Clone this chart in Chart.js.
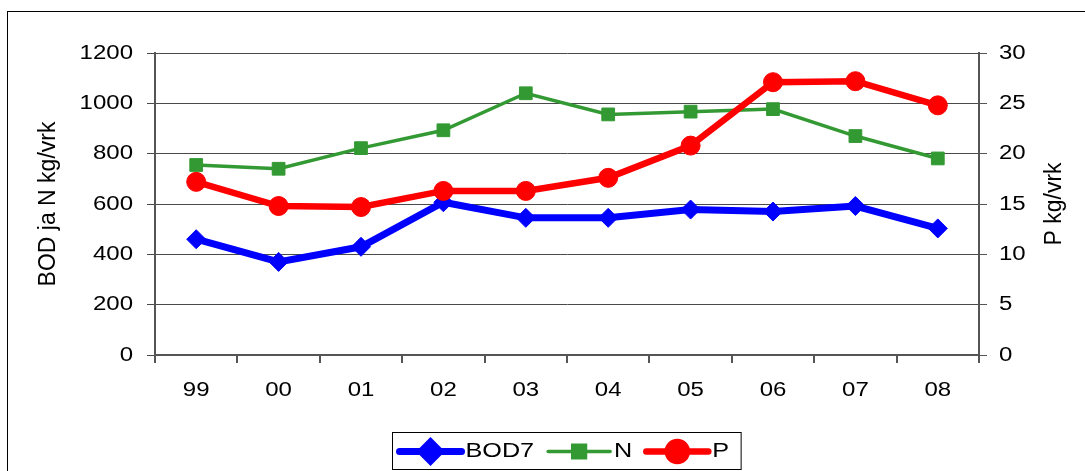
<!DOCTYPE html>
<html>
<head>
<meta charset="utf-8">
<script src="https://cdn.jsdelivr.net/npm/chart.js@4/dist/chart.umd.min.js"></script>
<style>
  html, body { margin: 0; padding: 0; background: #fff; }
  #wrap { position: relative; width: 1085px; height: 471px; }
</style>
</head>
<body>
<div id="wrap"><canvas id="c" width="1085" height="471"></canvas></div>
<script>
// Yearly loads
const years = ['99', '00', '01', '02', '03', '04', '05', '06', '07', '08'];
const bod7 = [460, 370, 430, 607, 545, 545, 578, 570, 592, 503];
const nitrogen = [755, 740, 822, 893, 1040, 956, 967, 977, 870, 781];
const phosphorus = [17.2, 14.8, 14.7, 16.3, 16.3, 17.6, 20.8, 27.1, 27.2, 24.8];

const leftTicks = [0, 200, 400, 600, 800, 1000, 1200];
const rightTicks = [0, 5, 10, 15, 20, 25, 30];

const leftTitle = 'BOD ja N kg/vrk';
const rightTitle = 'P kg/vrk';

const FONT = '"Liberation Sans", Arial, sans-serif';
const TEXT_STRETCH = 1.2;   // horizontal labels are drawn wide

// Widen horizontal text around its anchor point; rotated titles stay as they are.
function widenText(ctx) {
  const fill = ctx.fillText;
  ctx.fillText = function (text, x, y, maxWidth) {
    const m = this.getTransform();
    if (Math.abs(m.b) > 1e-6 || Math.abs(m.c) > 1e-6) {
      return maxWidth === undefined ? fill.call(this, text, x, y) : fill.call(this, text, x, y, maxWidth);
    }
    this.save();
    this.translate(x, y);
    this.scale(TEXT_STRETCH, 1);
    if (maxWidth === undefined) fill.call(this, text, 0, 0);
    else fill.call(this, text, 0, 0, maxWidth / TEXT_STRETCH);
    this.restore();
  };
}

const framePlugin = {
  id: 'frame',
  beforeInit(chart) { widenText(chart.ctx); },
  beforeDraw(chart) {
    const ctx = chart.ctx;
    ctx.save();
    ctx.fillStyle = '#fff';
    ctx.fillRect(0, 0, chart.width, chart.height);
    ctx.strokeStyle = '#000';
    ctx.lineWidth = 1;
    ctx.strokeRect(7.5, 11.5, 1300, 700);
    ctx.restore();
  },
  // right-hand axis title, reading bottom to top like the left one
  afterDraw(chart) {
    const s = chart.scales.y1;
    const ctx = chart.ctx;
    ctx.save();
    ctx.translate(1055, (s.top + s.bottom) / 2);
    ctx.rotate(-Math.PI / 2);
    ctx.font = '23px ' + FONT;
    ctx.fillStyle = '#000';
    ctx.textAlign = 'center';
    ctx.textBaseline = 'middle';
    ctx.fillText(rightTitle, 0, 0);
    ctx.restore();
  }
};

// Boxed legend: line sample with marker, then the label
const legendPlugin = {
  id: 'boxLegend',
  afterDraw(chart) {
    const ctx = chart.ctx;
    const sets = chart.data.datasets;
    const lineLen = 62, textGap = 4, itemGap = 14, padL = 7, padR = 12;
    const boxTop = 432, boxH = 37, cx = 566.5;
    ctx.save();
    ctx.font = '21px ' + FONT;
    const widths = sets.map(d => ctx.measureText(d.label).width * TEXT_STRETCH);
    let total = padL + padR + itemGap * (sets.length - 1);
    widths.forEach(w => { total += lineLen + textGap + w; });
    const left = Math.round(cx - total / 2) + 0.5;
    ctx.fillStyle = '#fff';
    ctx.fillRect(left, boxTop + 0.5, total, boxH);
    ctx.strokeStyle = '#000';
    ctx.lineWidth = 1;
    ctx.strokeRect(left, boxTop + 0.5, total, boxH);
    const midY = boxTop + boxH / 2 + 1;
    let x = left + padL;
    sets.forEach((d, i) => {
      ctx.strokeStyle = d.borderColor;
      ctx.lineWidth = d.borderWidth;
      ctx.lineCap = 'round';
      ctx.beginPath();
      ctx.moveTo(x, midY);
      ctx.lineTo(x + lineLen, midY);
      ctx.stroke();
      ctx.fillStyle = d.pointBackgroundColor;
      ctx.strokeStyle = d.pointBorderColor;
      Chart.helpers.drawPoint(ctx, {
        pointStyle: d.pointStyle, rotation: 0,
        radius: d.pointRadius, borderWidth: d.pointBorderWidth
      }, x + lineLen / 2, midY);
      x += lineLen + textGap;
      ctx.fillStyle = '#000';
      ctx.textAlign = 'left';
      ctx.textBaseline = 'middle';
      ctx.fillText(d.label, x, midY);
      x += widths[i] + itemGap;
    });
    ctx.restore();
  }
};

const tickFont = { family: FONT, size: 20 };
const titleFont = { family: FONT, size: 23 };
const gridColor = '#4a4a4a';
const axisColor = '#555';
const plainNumber = v => String(v);

new Chart(document.getElementById('c'), {
  type: 'line',
  data: {
    labels: years,
    datasets: [
      {
        label: 'BOD7', data: bod7, yAxisID: 'y', order: 2,
        borderColor: '#0000ff', backgroundColor: '#0000ff', borderWidth: 7,
        pointStyle: 'rectRot', pointRadius: 9.5, pointBorderWidth: 1,
        pointBackgroundColor: '#0000ff', pointBorderColor: '#0000ff',
        tension: 0, fill: false
      },
      {
        label: 'N', data: nitrogen, yAxisID: 'y', order: 1,
        borderColor: '#339933', backgroundColor: '#339933', borderWidth: 3.5,
        pointStyle: 'rect', pointRadius: 9, pointBorderWidth: 1,
        pointBackgroundColor: '#339933', pointBorderColor: '#339933',
        tension: 0, fill: false
      },
      {
        label: 'P', data: phosphorus, yAxisID: 'y1', order: 0,
        borderColor: '#ff0000', backgroundColor: '#ff0000', borderWidth: 6.5,
        pointStyle: 'circle', pointRadius: 9.5, pointBorderWidth: 1,
        pointBackgroundColor: '#ff0000', pointBorderColor: '#ff0000',
        tension: 0, fill: false
      }
    ]
  },
  options: {
    responsive: false,
    animation: false,
    devicePixelRatio: 1,
    layout: { padding: { left: 0, right: 0, top: 53, bottom: 0 } },
    plugins: { legend: { display: false }, tooltip: { enabled: false } },
    scales: {
      x: {
        type: 'category',
        offset: true,
        afterFit(s) { s.height = 116; },
        grid: { offset: true, drawOnChartArea: false, drawTicks: true, tickLength: 8, color: axisColor, lineWidth: 2 },
        border: { color: axisColor, width: 2 },
        ticks: { color: '#000', font: tickFont, padding: 15, maxRotation: 0, autoSkip: false }
      },
      y: {
        position: 'left',
        min: 0, max: 1200,
        afterFit(s) { s.width = 155; },
        afterBuildTicks(s) { s.ticks = leftTicks.map(v => ({ value: v })); },
        grid: { color: gridColor, lineWidth: 1, drawTicks: true, tickLength: 8 },
        border: { color: axisColor, width: 2 },
        ticks: { color: '#000', font: tickFont, padding: 14, callback: plainNumber },
        title: { display: true, text: leftTitle, color: '#000', font: titleFont, padding: { top: 35, bottom: 0 } }
      },
      y1: {
        position: 'right',
        min: 0, max: 30,
        afterFit(s) { s.width = 106; },
        afterBuildTicks(s) { s.ticks = rightTicks.map(v => ({ value: v })); },
        grid: { drawOnChartArea: false, drawTicks: true, tickLength: 8, color: axisColor },
        border: { color: axisColor, width: 2 },
        ticks: { color: '#000', font: tickFont, padding: 12, callback: plainNumber },
        title: { display: false }
      }
    }
  },
  plugins: [framePlugin, legendPlugin]
});
</script>
</body>
</html>
